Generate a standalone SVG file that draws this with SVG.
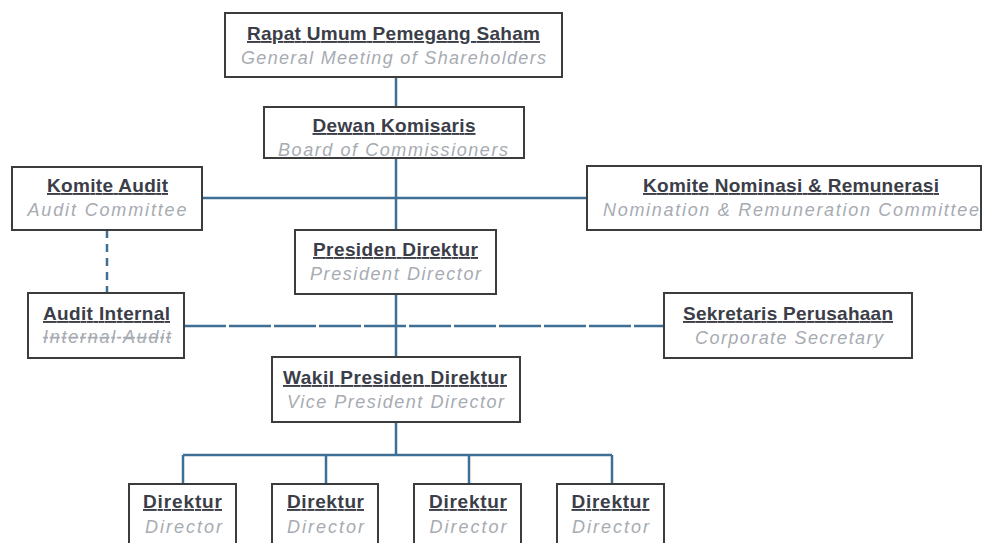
<svg xmlns="http://www.w3.org/2000/svg" width="983" height="543" viewBox="0 0 983 543">
<style>
.box{fill:#ffffff;stroke:#3c3c3c;stroke-width:2}
.t{font-family:"Liberation Sans",Arial,sans-serif;font-weight:bold;font-size:19px;fill:#3b3e48;text-anchor:middle;text-decoration:underline}
.s{font-family:"Liberation Sans",Arial,sans-serif;font-style:italic;font-size:18px;fill:#a7abb2;text-anchor:middle}
.c{fill:none;stroke:#3f6f94;stroke-width:2.5}
.d{fill:none;stroke:#3f6f94;stroke-width:2.5;stroke-dasharray:8 6}
.dl{fill:none;stroke:#3f6f94;stroke-width:2.5;stroke-dasharray:42 3}
</style>
<rect width="983" height="543" fill="#ffffff"/>
<g id="connectors">
<path class="c" d="M396 77V107M396 158V230M202 198H587M396 294V357M396 422V455M183 455H612M183 455V484M326 455V484M469 455V484M612 455V484"/>
<path class="d" d="M107 230V293"/>
<path class="dl" d="M184 326H664"/>
</g>
<g id="rups">
<rect class="box" x="225" y="13" width="337" height="64"/>
<text class="t" x="393.5" y="40" textLength="293">Rapat Umum Pemegang Saham</text>
<text class="s" x="393.5" y="64" textLength="305">General Meeting of Shareholders</text>
</g>
<g id="dewan">
<rect class="box" x="264" y="107" width="260" height="51"/>
<text class="t" x="394" y="132" textLength="163">Dewan Komisaris</text>
<text class="s" x="393" y="156" textLength="230">Board of Commissioners</text>
</g>
<g id="komite-audit">
<rect class="box" x="12" y="167" width="190" height="63"/>
<text class="t" x="107.5" y="192" textLength="121">Komite Audit</text>
<text class="s" x="107" y="216" textLength="159">Audit Committee</text>
</g>
<g id="komite-nominasi">
<rect class="box" x="587" y="166" width="394" height="64"/>
<text class="t" x="791" y="192" textLength="296">Komite Nominasi &amp; Remunerasi</text>
<text class="s" x="791" y="216" textLength="376">Nomination &amp; Remuneration Committee</text>
</g>
<g id="presiden">
<rect class="box" x="295" y="230" width="201" height="64"/>
<text class="t" x="395.5" y="256" textLength="165">Presiden Direktur</text>
<text class="s" x="395.5" y="280" textLength="171">President Director</text>
</g>
<g id="audit-internal">
<rect class="box" x="28" y="293" width="156" height="65"/>
<text class="t" x="106.5" y="320" textLength="127">Audit Internal</text>
<text class="s" x="107" y="343" textLength="128" style="text-decoration:line-through">Internal Audit</text>
</g>
<g id="sekretaris">
<rect class="box" x="664" y="293" width="248" height="65"/>
<text class="t" x="788" y="320" textLength="210">Sekretaris Perusahaan</text>
<text class="s" x="789" y="344" textLength="188">Corporate Secretary</text>
</g>
<g id="wakil">
<rect class="box" x="272" y="357" width="248" height="65"/>
<text class="t" x="395" y="384" textLength="224">Wakil Presiden Direktur</text>
<text class="s" x="395.5" y="408" textLength="217">Vice President Director</text>
</g>
<g id="direktur-1">
<rect class="box" x="129" y="484" width="107" height="80"/>
<text class="t" x="182.5" y="508" textLength="79">Direktur</text>
<text class="s" x="183.5" y="533" textLength="77">Director</text>
</g>
<g id="direktur-2">
<rect class="box" x="272" y="484" width="106" height="80"/>
<text class="t" x="325.5" y="508" textLength="77">Direktur</text>
<text class="s" x="325.5" y="533" textLength="77">Director</text>
</g>
<g id="direktur-3">
<rect class="box" x="414" y="484" width="107" height="80"/>
<text class="t" x="468" y="508" textLength="78">Direktur</text>
<text class="s" x="468" y="533" textLength="77">Director</text>
</g>
<g id="direktur-4">
<rect class="box" x="557" y="484" width="107" height="80"/>
<text class="t" x="610.5" y="508" textLength="78">Direktur</text>
<text class="s" x="610.5" y="533" textLength="77">Director</text>
</g>
</svg>
